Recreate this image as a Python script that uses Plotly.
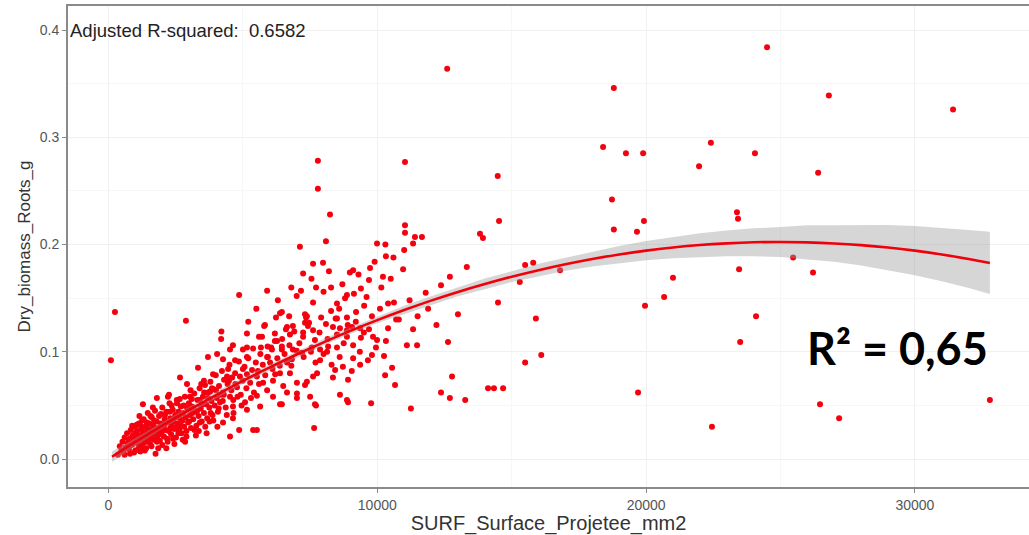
import plotly.graph_objects as go

# ---------------- data ----------------
left_outliers = [(240, 0.137), (90, 0.092)]

sparse_right = [
    (12600, 0.364), (18800, 0.346), (24500, 0.384), (26800, 0.339), (31420, 0.326),
    (22410, 0.295), (18400, 0.291), (19250, 0.285), (19890, 0.285), (24050, 0.285),
    (21970, 0.273), (26400, 0.267), (14480, 0.264), (11030, 0.277),
    (18730, 0.242), (23380, 0.230), (23420, 0.224), (14530, 0.222), (19920, 0.222),
    (18800, 0.214), (19660, 0.212), (25470, 0.188), (23460, 0.177), (26210, 0.174),
    (21000, 0.169), (20670, 0.151), (19960, 0.143), (24090, 0.133), (23500, 0.109),
    (19700, 0.062), (26470, 0.051), (27180, 0.038), (22450, 0.030), (32790, 0.055),
]

mid_sparse = [
    (11030, 0.218), (11030, 0.211), (11400, 0.207), (11660, 0.207), (11330, 0.201),
    (13820, 0.210), (13930, 0.206), (13330, 0.179), (12700, 0.170), (12370, 0.162),
    (14490, 0.146), (11890, 0.140), (11330, 0.121), (12630, 0.109), (11480, 0.106),
    (11100, 0.106), (12780, 0.077), (12700, 0.057), (13270, 0.055), (12370, 0.062),
    (14120, 0.066), (14340, 0.066), (14680, 0.066), (15500, 0.090), (16100, 0.097),
    (15900, 0.131), (15300, 0.165), (15500, 0.181), (15800, 0.183), (16800, 0.176),
    (11250, 0.047), (13000, 0.135), (11800, 0.155), (11500, 0.133), (11200, 0.148),
    (12200, 0.125),
]

upper_cloud = [
    (7790, 0.278), (7790, 0.252), (8240, 0.228), (7120, 0.198), (8090, 0.203),
    (10320, 0.189), (10960, 0.177), (10210, 0.170), (9730, 0.178), (9690, 0.167),
    (9100, 0.176), (8980, 0.174), (7610, 0.182), (7980, 0.183), (7240, 0.173),
    (5900, 0.157), (7160, 0.157), (8280, 0.160), (7720, 0.160), (7610, 0.146),
    (9390, 0.159), (8870, 0.153), (8800, 0.150), (9130, 0.154), (8500, 0.145),
    (8580, 0.140), (8280, 0.138), (8500, 0.131), (9210, 0.137), (9510, 0.143),
    (10400, 0.145), (10620, 0.146), (6450, 0.137), (5820, 0.125), (6230, 0.132),
    (6720, 0.133), (7310, 0.135), (7350, 0.132), (7460, 0.127), (7910, 0.132),
    (8090, 0.126), (8350, 0.123), (8610, 0.122), (8870, 0.132), (9360, 0.122),
    (9690, 0.121), (6600, 0.121), (6750, 0.116), (7240, 0.118), (7240, 0.114),
    (7610, 0.120), (7680, 0.111), (8500, 0.116), (8870, 0.114), (9100, 0.106),
    (9390, 0.113), (9840, 0.114), (9990, 0.111), (10320, 0.110), (5710, 0.114),
    (6270, 0.110), (6450, 0.105), (6050, 0.104), (8170, 0.105), (9990, 0.201),
]

mid_cloud = [
    (4860, 0.153), (2880, 0.129), (7380, 0.133), (7310, 0.127), (6860, 0.124),
    (6380, 0.136), (5790, 0.124), (6190, 0.117), (6640, 0.123),
    (5150, 0.117), (5600, 0.114), (4190, 0.112), (4630, 0.106), (5000, 0.102),
    (3700, 0.095), (4040, 0.098), (4260, 0.093), (4520, 0.102), (4710, 0.092),
    (5150, 0.095), (5380, 0.103), (5670, 0.104), (6080, 0.102), (5930, 0.095),
    (6450, 0.102), (6860, 0.102), (7200, 0.099), (7530, 0.100), (7870, 0.102),
    (8130, 0.100), (8500, 0.104), (8870, 0.120), (9060, 0.123),
    (3330, 0.085), (2660, 0.076), (2920, 0.070), (3550, 0.073), (3890, 0.079),
    (4410, 0.077), (4480, 0.073), (4890, 0.077), (5150, 0.079), (5520, 0.077),
    (5750, 0.071), (6120, 0.073), (6380, 0.080), (6750, 0.080), (7010, 0.071),
    (7380, 0.072), (7610, 0.077), (7760, 0.080), (8350, 0.076), (8720, 0.086),
    (9100, 0.094),
    (1280, 0.051), (1800, 0.057), (2210, 0.058), (2550, 0.052), (3030, 0.058),
    (3400, 0.055), (3780, 0.063), (4260, 0.062), (4520, 0.058), (4630, 0.049),
    (5080, 0.053), (5150, 0.046), (5520, 0.059), (5640, 0.049), (5900, 0.064),
    (6120, 0.058), (6450, 0.051), (6640, 0.062), (7010, 0.061), (7010, 0.057),
    (7500, 0.058), (7720, 0.050), (7650, 0.029), (8870, 0.055), (8910, 0.053),
    (4860, 0.027), (4520, 0.021), (4630, 0.038), (5380, 0.027), (5520, 0.027),
    (4260, 0.034),
]

right_cloud = [
    (9770, 0.052), (7680, 0.051), (6380, 0.051), (7870, 0.092), (8430, 0.083),
    (8910, 0.074), (9360, 0.088), (9800, 0.097), (10290, 0.078), (10660, 0.069),
    (8610, 0.060), (7310, 0.069),
    (7100, 0.108), (7260, 0.095), (7420, 0.124), (7560, 0.104), (7700, 0.090),
    (7850, 0.118), (8000, 0.098), (8150, 0.112), (8300, 0.088), (8450, 0.131),
    (8600, 0.095), (8750, 0.108), (8900, 0.125), (9050, 0.082), (9200, 0.128),
    (9350, 0.100), (9500, 0.118), (9650, 0.092), (9800, 0.133), (9950, 0.104),
    (10100, 0.140), (10250, 0.096), (10400, 0.122), (10550, 0.085), (10700, 0.130),
    (7550, 0.168), (8200, 0.175), (8700, 0.163), (9300, 0.172), (9900, 0.184),
    (10150, 0.160), (10500, 0.168), (6800, 0.160), (6300, 0.148), (5500, 0.140),
    (7000, 0.152), (8000, 0.156), (9600, 0.151), (5200, 0.128), (4200, 0.119),
    (10800, 0.130), (10600, 0.188), (11000, 0.195), (10300, 0.200),
]

core_cloud = [
    (350, 0.004), (420, 0.012), (480, 0.008), (520, 0.016), (560, 0.006),
    (600, 0.020), (640, 0.011), (690, 0.024), (720, 0.015), (760, 0.009),
    (800, 0.019), (830, 0.027), (870, 0.013), (900, 0.022), (940, 0.017),
    (980, 0.030), (1000, 0.008), (1030, 0.020), (1060, 0.026), (1100, 0.014),
    (1130, 0.033), (1160, 0.022), (1190, 0.018), (1220, 0.028), (1250, 0.012),
    (1280, 0.024), (1310, 0.037), (1340, 0.020), (1370, 0.030), (1400, 0.016),
    (1430, 0.026), (1460, 0.043), (1490, 0.021), (1520, 0.033), (1550, 0.014),
    (1580, 0.027), (1610, 0.039), (1640, 0.023), (1670, 0.031), (1700, 0.018),
    (1730, 0.045), (1760, 0.026), (1790, 0.035), (1820, 0.021), (1850, 0.029),
    (1880, 0.040), (1910, 0.017), (1940, 0.033), (1970, 0.025), (2000, 0.048),
    (2030, 0.030), (2060, 0.021), (2090, 0.037), (2120, 0.027), (2150, 0.044),
    (2180, 0.019), (2210, 0.034), (2240, 0.026), (2270, 0.052), (2300, 0.038),
    (2330, 0.023), (2360, 0.031), (2390, 0.046), (2420, 0.035), (2450, 0.028),
    (2480, 0.041), (2510, 0.020), (2540, 0.055), (2570, 0.033), (2600, 0.044),
    (2630, 0.027), (2660, 0.038), (2690, 0.049), (2720, 0.024), (2750, 0.036),
    (2780, 0.043), (2810, 0.030), (2840, 0.058), (2870, 0.039), (2900, 0.026),
    (2930, 0.047), (2960, 0.034), (2990, 0.052), (3030, 0.041), (3070, 0.029),
    (3110, 0.049), (3150, 0.037), (3190, 0.061), (3230, 0.044), (3270, 0.031),
    (3310, 0.055), (3350, 0.040), (3390, 0.066), (3430, 0.047), (3470, 0.035),
    (3510, 0.058), (3550, 0.043), (3590, 0.069), (3630, 0.051), (3670, 0.038),
    (3710, 0.062), (3750, 0.048), (3790, 0.072), (3830, 0.054), (3870, 0.041),
    (3910, 0.065), (3950, 0.050), (3990, 0.078), (4030, 0.057), (4070, 0.044),
    (4110, 0.068), (4150, 0.053), (4220, 0.082), (4290, 0.060), (4360, 0.048),
    (4430, 0.070), (4500, 0.088), (4570, 0.064), (4640, 0.055), (4710, 0.080),
    (4780, 0.067), (4850, 0.091), (4920, 0.060), (4990, 0.073), (5060, 0.086),
    (5130, 0.066), (5200, 0.094), (5270, 0.071), (5340, 0.083), (5410, 0.062),
    (5480, 0.090), (5560, 0.082), (5650, 0.098), (5740, 0.088), (5830, 0.078),
    (5920, 0.105), (6010, 0.090), (6100, 0.084), (6190, 0.110), (6280, 0.094),
    (6370, 0.087), (6460, 0.112), (6550, 0.098), (6640, 0.090), (6730, 0.106),
    (6820, 0.093), (6910, 0.119), (7000, 0.101),
    (600, 0.004), (700, 0.010), (800, 0.005), (900, 0.014), (1000, 0.024),
    (1100, 0.009), (1200, 0.031), (1300, 0.015), (1400, 0.010), (1500, 0.028),
    (1600, 0.012), (1700, 0.036), (1800, 0.016), (1900, 0.026), (2000, 0.013),
    (2100, 0.041), (2200, 0.016), (2300, 0.029), (2400, 0.019), (2500, 0.039),
    (2600, 0.024), (2700, 0.031), (2800, 0.050), (2900, 0.021), (3000, 0.035),
    (3100, 0.056), (3200, 0.027), (3300, 0.045), (3400, 0.034), (3500, 0.051),
    (3600, 0.030), (3700, 0.057), (3800, 0.043), (3900, 0.036), (4000, 0.064),
    (4100, 0.047), (4300, 0.074), (4400, 0.041), (4600, 0.076), (4800, 0.058),
    (5000, 0.084), (5300, 0.057), (5600, 0.070), (5900, 0.095), (6200, 0.079),
    (6500, 0.068), (6800, 0.087), (1150, 0.040), (1650, 0.048), (2250, 0.060),
    (1750, 0.005),
    (750, 0.018), (950, 0.006), (1050, 0.032), (1250, 0.036), (1350, 0.008),
    (1450, 0.018), (1560, 0.040), (1850, 0.010), (1950, 0.042), (2150, 0.010),
    (2350, 0.050), (2450, 0.014), (2650, 0.056), (2850, 0.016), (3050, 0.064),
    (3250, 0.022), (3450, 0.070), (3650, 0.024), (3850, 0.066), (4050, 0.030),
    (4250, 0.054), (4450, 0.084), (4650, 0.043), (4950, 0.050), (5150, 0.104),
    (880, 0.031), (1180, 0.007), (1420, 0.034), (1620, 0.019), (1880, 0.023),
    (2080, 0.032), (2280, 0.044), (2560, 0.030), (2760, 0.018), (3120, 0.043),
    (3360, 0.026), (3560, 0.062), (3760, 0.035), (4180, 0.060), (4720, 0.070),
]

# fitted quadratic curve and its confidence half-width
fit_x = [130, 1000, 2000, 3000, 4000, 5000, 6000, 7000, 8000, 9000, 10000,
         11000, 12000, 13000, 14000, 15000, 16000, 17000, 18000, 19000, 20000,
         21000, 22000, 23000, 24000, 25000, 26000, 27000, 28000, 29000, 30000,
         31000, 32000, 32790]
fit_y = [0.0021, 0.0159, 0.0311, 0.0457, 0.0596, 0.0729, 0.0854, 0.0974,
         0.1088, 0.1195, 0.1295, 0.1389, 0.1477, 0.1558, 0.1632, 0.1700,
         0.1761, 0.1816, 0.1865, 0.1907, 0.1943, 0.1972, 0.1995, 0.2011,
         0.2021, 0.2024, 0.2020, 0.2010, 0.1994, 0.1972, 0.1943, 0.1907,
         0.1865, 0.1828]
fit_se = [0.005, 0.004, 0.003, 0.003, 0.003, 0.003, 0.003, 0.003, 0.003,
          0.003, 0.003, 0.004, 0.004, 0.004, 0.005, 0.005, 0.006, 0.006,
          0.007, 0.008, 0.009, 0.010, 0.011, 0.012, 0.013, 0.014, 0.016,
          0.017, 0.019, 0.021, 0.023, 0.025, 0.027, 0.029]

x_ticks = [0, 10000, 20000, 30000]
y_ticks = [0.0, 0.1, 0.2, 0.3, 0.4]

# ---------------- figure ----------------
all_pts = left_outliers + sparse_right + mid_sparse + upper_cloud + mid_cloud + right_cloud + core_cloud
px = [p[0] for p in all_pts]
py = [p[1] for p in all_pts]

upper = [y + s for y, s in zip(fit_y, fit_se)]
lower = [y - s for y, s in zip(fit_y, fit_se)]

fig = go.Figure()
fig.add_trace(go.Scatter(x=px, y=py, mode="markers",
                         marker=dict(color="rgb(245,0,15)", size=6, line=dict(width=0)),
                         hoverinfo="skip", showlegend=False))
fig.add_trace(go.Scatter(x=fit_x, y=upper, mode="lines", line=dict(width=0),
                         hoverinfo="skip", showlegend=False))
fig.add_trace(go.Scatter(x=fit_x, y=lower, mode="lines", line=dict(width=0),
                         fill="tonexty", fillcolor="rgba(153,153,153,0.4)",
                         hoverinfo="skip", showlegend=False))
fig.add_trace(go.Scatter(x=fit_x, y=fit_y, mode="lines",
                         line=dict(color="rgb(240,0,10)", width=2.6, shape="spline"),
                         hoverinfo="skip", showlegend=False))

font_fam = "Liberation Sans, Arial, sans-serif"
fig.update_layout(
    width=1029, height=535,
    margin=dict(l=68, r=0, t=6, b=48, autoexpand=False),
    paper_bgcolor="white", plot_bgcolor="white",
    font=dict(family=font_fam),
    xaxis=dict(
        range=[-1507, 34245], tickvals=x_ticks, ticktext=[str(v) for v in x_ticks],
        showgrid=True, gridcolor="#f0f0f0", gridwidth=1,
        minor=dict(dtick=5000, tick0=0, showgrid=True, gridcolor="#f7f7f7", gridwidth=1),
        showline=True, linecolor="#8a8a8a", linewidth=2, mirror=True,
        ticks="outside", ticklen=4, tickcolor="#8a8a8a", tickwidth=1,
        tickfont=dict(size=14, color="#555555"), zeroline=False, automargin=False,
        title=dict(text="SURF_Surface_Projetee_mm2", font=dict(size=20, color="#333333"), standoff=1),
    ),
    yaxis=dict(
        range=[-0.0261, 0.4224], tickvals=y_ticks, ticktext=["%.1f" % v for v in y_ticks],
        showgrid=True, gridcolor="#f0f0f0", gridwidth=1,
        minor=dict(dtick=0.05, tick0=0, showgrid=True, gridcolor="#f7f7f7", gridwidth=1),
        showline=True, linecolor="#8a8a8a", linewidth=2,
        ticks="outside", ticklen=4, tickcolor="#8a8a8a", tickwidth=1,
        tickfont=dict(size=14, color="#555555"), zeroline=False, automargin=False,
        title=dict(text="Dry_biomass_Roots_g", font=dict(size=17, color="#333333"), standoff=5),
    ),
    annotations=[
        dict(text="Adjusted R-squared:  0.6582", xref="paper", yref="paper",
             x=0.0, y=0.950, xanchor="left", yanchor="middle", showarrow=False,
             font=dict(size=18.5, color="#222222", family=font_fam)),
        dict(text="<b>R² = 0,65</b>", xref="paper", yref="paper",
             x=0.767, y=0.289, xanchor="left", yanchor="middle", showarrow=False,
             font=dict(size=45, color="black", family="Lato, Liberation Sans, sans-serif")),
    ],
)

fig.write_html("out.html", config={"displayModeBar": False},
               post_script="document.body.style.margin='0';document.body.style.overflow='hidden';")
